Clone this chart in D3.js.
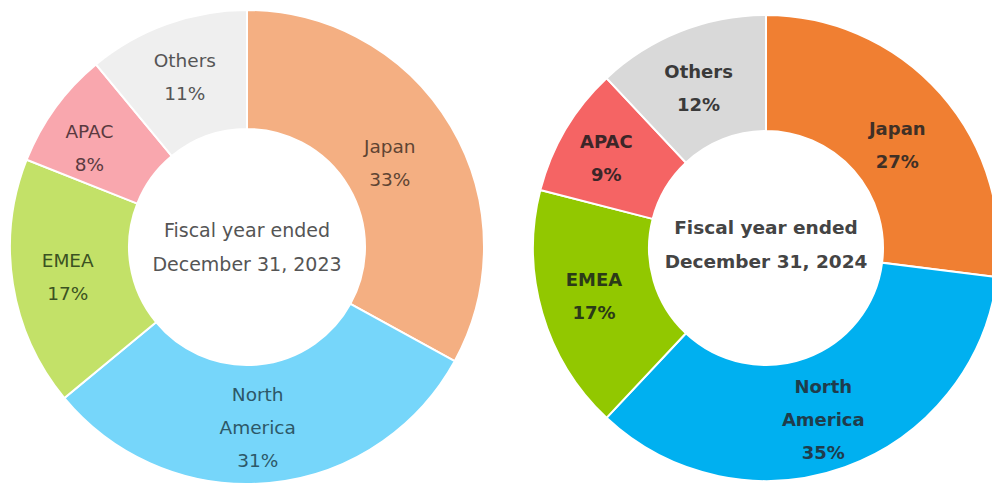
<!DOCTYPE html>
<html>
<head>
<meta charset="utf-8">
<script src="https://cdn.jsdelivr.net/npm/d3@7"></script>
<style>
  html, body { margin: 0; padding: 0; background: #fff; }
  svg { display: block; }
</style>
</head>
<body>
<svg id="chart" width="992" height="484"></svg>
<script>
// Regional revenue breakdown, two fiscal years
const regions = ["Japan", "North America", "EMEA", "APAC", "Others"];
const share2023 = [33, 31, 17, 8, 11];
const share2024 = [27, 35, 17, 9, 12];
const centerTitle2023 = ["Fiscal year ended", "December 31, 2023"];
const centerTitle2024 = ["Fiscal year ended", "December 31, 2024"];
const colors2023 = ["#F4AF82", "#76D6FA", "#C3E168", "#F9A7AE", "#EFEFEF"];
const colors2024 = ["#F07F32", "#00B0F0", "#92C800", "#F56464", "#D9D9D9"];
const labelInk2023 = ["#5E4433", "#2D5868", "#3B5222", "#5A3A40", "#555555"];
const labelInk2024 = ["#3F3026", "#1F3C4C", "#2B3A18", "#3C2628", "#3A3A3A"];

const svg = d3.select("#chart");
const font = "'DejaVu Sans', Verdana, sans-serif";

function donut(opts) {
  const { cx, cy, outer, inner, values, fills, inks, title, bold, nudges,
          labelSize, titleSize, titleY } = opts;
  const g = svg.append("g").attr("transform", `translate(${cx},${cy})`);
  const pie = d3.pie().sort(null).value(d => d.value);
  const data = pie(regions.map((r, i) => ({ region: r, value: values[i], i })));
  const arc = d3.arc().innerRadius(inner).outerRadius(outer);

  g.selectAll("path.slice")
    .data(data)
    .join("path")
    .attr("class", "slice")
    .attr("d", arc)
    .attr("fill", d => fills[d.data.i])
    .attr("stroke", "#fff")
    .attr("stroke-width", 2);

  const lineH = 33;
  g.selectAll("text.label")
    .data(data)
    .join("text")
    .attr("class", "label")
    .attr("font-family", font)
    .attr("font-size", labelSize)
    .attr("font-weight", bold ? "bold" : "normal")
    .attr("fill", d => inks[d.data.i])
    .attr("text-anchor", "middle")
    .each(function (d) {
      const [x, y] = arc.centroid(d);
      const nd = nudges[d.data.i] || [0, 0];
      const words = d.data.region === "North America" ? ["North", "America"] : [d.data.region];
      const lines = words.concat([d.data.value + "%"]);
      const top = y + nd[1] - (lines.length - 1) * lineH / 2;
      const t = d3.select(this);
      lines.forEach((s, k) => {
        t.append("tspan")
          .attr("x", x + nd[0])
          .attr("y", top + k * lineH)
          .attr("dy", "0.35em")
          .text(s);
      });
    });

  const c = g.append("text")
    .attr("font-family", font)
    .attr("font-size", titleSize)
    .attr("font-weight", bold ? "bold" : "normal")
    .attr("fill", bold ? "#444" : "#555")
    .attr("text-anchor", "middle");
  title.forEach((s, k) => {
    c.append("tspan").attr("x", 0).attr("y", titleY + (k - 0.5) * 34).attr("dy", "0.35em").text(s);
  });
}

donut({
  cx: 247, cy: 247, outer: 237, inner: 118,
  values: share2023, fills: colors2023, inks: labelInk2023,
  title: centerTitle2023, bold: false, labelSize: 18.5, titleSize: 19, titleY: 0,
  nudges: [[-10, 6], [-6, 4], [-4, 2], [-14, 5], [-2, -3]]
});

donut({
  cx: 766, cy: 248, outer: 233, inner: 117,
  values: share2024, fills: colors2024, inks: labelInk2024,
  title: centerTitle2024, bold: true, labelSize: 18, titleSize: 18.5, titleY: -3,
  nudges: [[0, 13], [-2, 7], [-4, -1], [-9, -1], [-3, 3]]
});
</script>
</body>
</html>
